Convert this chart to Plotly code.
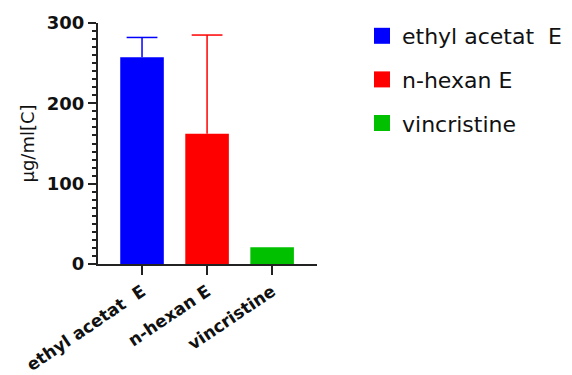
import plotly.graph_objects as go

categories = ["ethyl acetat\u00a0 E", "n-hexan E", "vincristine"]
values = [257.5, 162, 21]
err_plus = [24.5, 123, 0]
colors = ["#0000ff", "#ff0000", "#00c000"]

FONT = "DejaVu Sans, Verdana, sans-serif"

fig = go.Figure()
for cat, v, e, c in zip(categories, values, err_plus, colors):
    fig.add_trace(go.Bar(
        x=[cat], y=[v], name=cat, showlegend=False,
        marker=dict(color=c, line=dict(width=0)),
        width=0.67,
    ))
    if e > 0:
        # upper error bar: stem + cap
        fig.add_trace(go.Scatter(
            x=[cat, cat], y=[v, v + e], mode="lines",
            line=dict(color=c, width=1.5), showlegend=False, hoverinfo="skip",
        ))
        fig.add_trace(go.Scatter(
            x=[cat], y=[v + e], mode="markers",
            marker=dict(symbol="line-ew", size=22, line=dict(color=c, width=1.5)),
            showlegend=False, hoverinfo="skip",
        ))
# legend entries
for cat, c in zip(categories, colors):
    fig.add_trace(go.Scatter(
        x=[None], y=[None], mode="markers", name=cat,
        marker=dict(symbol="square", size=16, color=c),
        showlegend=True, legendgroup=cat,
    ))

W, H = 620, 400
L, T, PW, PH = 90, 15, 219, 241
fig.update_layout(
    width=W, height=H,
    margin=dict(l=L, r=W - L - PW, t=T, b=H - T - PH),
    plot_bgcolor="white", paper_bgcolor="white",
    barmode="overlay",
    showlegend=True,
    legend=dict(xref="container", yref="container",
                x=354 / W, y=1 - 7 / H, xanchor="left", yanchor="top",
                font=dict(family=FONT, size=22, color="#111"),
                traceorder="grouped", tracegroupgap=12, itemsizing="trace",
                bgcolor="rgba(0,0,0,0)"),
    font=dict(family=FONT, color="#111"),
)
fig.update_xaxes(
    type="category", categoryorder="array", categoryarray=categories,
    range=[-0.677, 2.69], automargin=False,
    showline=True, linecolor="#222", linewidth=2,
    ticks="outside", ticklen=9, tickwidth=2, tickcolor="#222",
    tickangle=-34,
    tickfont=dict(family=FONT, size=17, color="#111", weight="bold"),
    showgrid=False, zeroline=False,
)
fig.update_yaxes(
    range=[0, 300], tick0=0, dtick=100, automargin=False,
    showline=True, linecolor="#222", linewidth=2,
    ticks="outside", ticklen=8, tickwidth=2, tickcolor="#222",
    minor=dict(dtick=10, tick0=0, ticks="outside", ticklen=4, tickwidth=1.5, tickcolor="#222"),
    tickfont=dict(family=FONT, size=18, color="#111", weight="bold"),
    title=dict(text="µg/ml[C]", font=dict(family=FONT, size=18, color="#111"), standoff=8),
    showgrid=False, zeroline=False,
)

fig.write_html("out.html")
